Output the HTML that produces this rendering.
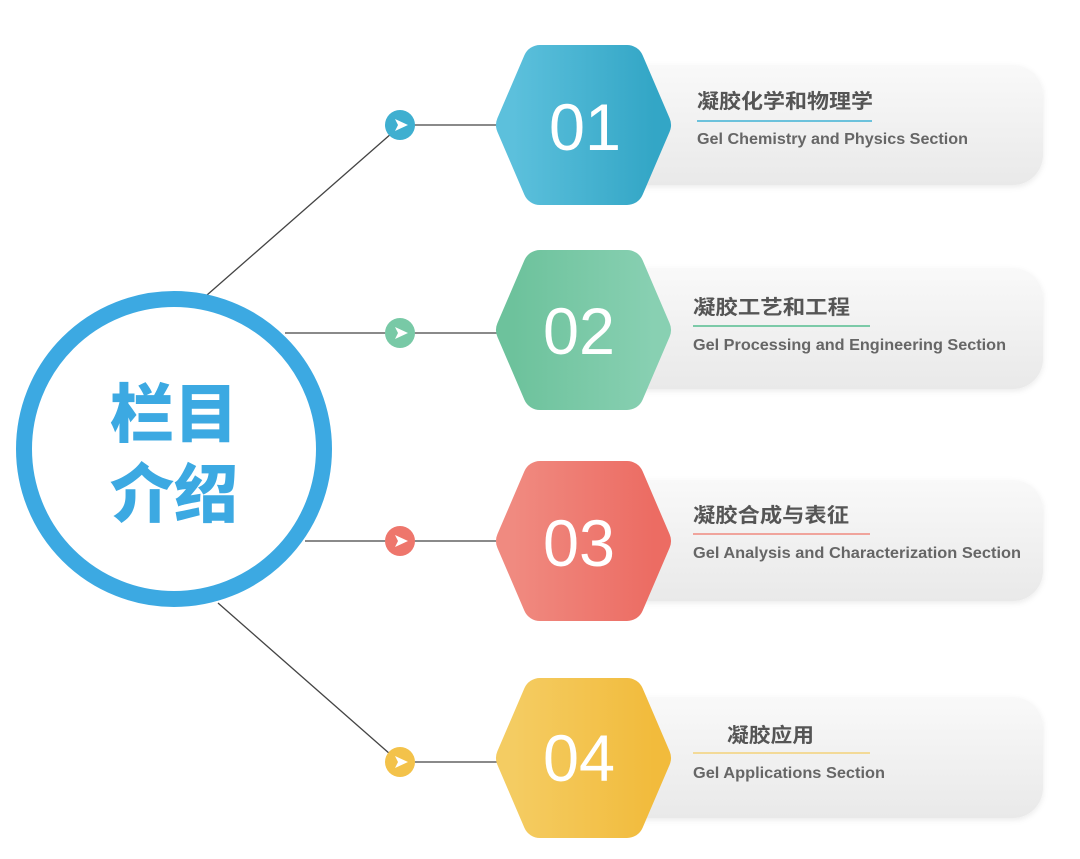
<!DOCTYPE html>
<html><head><meta charset="utf-8"><style>
html,body{margin:0;padding:0;background:#fff;width:1080px;height:859px;overflow:hidden}
svg{display:block}
.t{font-family:"Liberation Sans","Noto Sans CJK SC",sans-serif;font-weight:bold;fill:#555;font-size:20px}
.e{font-family:"Liberation Sans",sans-serif;font-weight:bold;fill:#666;font-size:16px}
.n{font-family:"Liberation Sans",sans-serif;fill:#fff;font-size:66px}
</style></head><body>
<svg width="1080" height="859" viewBox="0 0 1080 859">
<defs>
<linearGradient id="card" x1="0" y1="0" x2="0" y2="1"><stop offset="0" stop-color="#f9f9f9"/><stop offset="1" stop-color="#e9e9e9"/></linearGradient>
<linearGradient id="g1" x1="0" x2="1"><stop offset="0" stop-color="#5cc0dc"/><stop offset="1" stop-color="#33a6c6"/></linearGradient>
<linearGradient id="g2" x1="0" x2="1"><stop offset="0" stop-color="#6dc29c"/><stop offset="1" stop-color="#88d0b2"/></linearGradient>
<linearGradient id="g3" x1="0" x2="1"><stop offset="0" stop-color="#f08a80"/><stop offset="1" stop-color="#ec6c63"/></linearGradient>
<linearGradient id="g4" x1="0" x2="1"><stop offset="0" stop-color="#f4cc62"/><stop offset="1" stop-color="#f2bb3c"/></linearGradient>
<filter id="sh" x="-10%" y="-20%" width="120%" height="150%"><feDropShadow dx="0" dy="2" stdDeviation="3" flood-color="#000" flood-opacity="0.08"/></filter>
</defs>

<g stroke="#444" stroke-width="1.3" fill="none">
<line x1="207" y1="295" x2="392" y2="133"/>
<line x1="400" y1="125" x2="500" y2="125"/>
<line x1="285" y1="333" x2="500" y2="333"/>
<line x1="305" y1="541" x2="500" y2="541"/>
<line x1="218" y1="603" x2="390" y2="754"/>
<line x1="400" y1="762" x2="500" y2="762"/>
</g>

<circle cx="174" cy="449" r="150" fill="#fff" stroke="#3ca9e2" stroke-width="16"/>
<text x="174" y="437" text-anchor="middle" font-family="'Noto Sans CJK SC',sans-serif" font-weight="900" font-size="64" fill="#3ca9e2">栏目</text>
<text x="174" y="517" text-anchor="middle" font-family="'Noto Sans CJK SC',sans-serif" font-weight="900" font-size="64" fill="#3ca9e2">介绍</text>

<g filter="url(#sh)" fill="url(#card)">
<rect x="610" y="65" width="433" height="120" rx="30"/>
<rect x="610" y="268" width="433" height="121" rx="30"/>
<rect x="610" y="480" width="433" height="121" rx="30"/>
<rect x="610" y="697" width="433" height="121" rx="30"/>
</g>

<circle cx="400" cy="125" r="15" fill="#3fafd0"/>
<circle cx="400" cy="333" r="15" fill="#78c9a6"/>
<circle cx="400" cy="541" r="15" fill="#ee766c"/>
<circle cx="400" cy="762" r="15" fill="#f3c24a"/>
<g fill="#fff">
<path d="M395 119 L408 125 L395 131 L398 125Z"/>
<path d="M395 327 L408 333 L395 339 L398 333Z"/>
<path d="M395 535 L408 541 L395 547 L398 541Z"/>
<path d="M395 756 L408 762 L395 768 L398 762Z"/>
</g>

<g stroke-width="34" stroke-linejoin="round">
<polygon points="513,125 540,62 627,62 654,125 627,188 540,188" fill="url(#g1)" stroke="url(#g1)"/>
<polygon points="513,330 540,267 627,267 654,330 627,393 540,393" fill="url(#g2)" stroke="url(#g2)"/>
<polygon points="513,541 540,478 627,478 654,541 627,604 540,604" fill="url(#g3)" stroke="url(#g3)"/>
<polygon points="513,758 540,695 627,695 654,758 627,821 540,821" fill="url(#g4)" stroke="url(#g4)"/>
</g>
<text class="n" x="549" y="150" textLength="72" lengthAdjust="spacingAndGlyphs">01</text>
<text class="n" x="543" y="354" textLength="72" lengthAdjust="spacingAndGlyphs">02</text>
<text class="n" x="543" y="566" textLength="72" lengthAdjust="spacingAndGlyphs">03</text>
<text class="n" x="543" y="781" textLength="72" lengthAdjust="spacingAndGlyphs">04</text>

<text class="t" x="697" y="108" textLength="176" lengthAdjust="spacingAndGlyphs">凝胶化学和物理学</text>
<line x1="697" y1="121" x2="872" y2="121" stroke="#6cc2dc" stroke-width="2"/>
<text class="e" x="697" y="144" textLength="271" lengthAdjust="spacingAndGlyphs">Gel Chemistry and Physics Section</text>

<text class="t" x="693" y="314" textLength="157" lengthAdjust="spacingAndGlyphs">凝胶工艺和工程</text>
<line x1="693" y1="326" x2="870" y2="326" stroke="#7ccaa8" stroke-width="2"/>
<text class="e" x="693" y="350" textLength="313" lengthAdjust="spacingAndGlyphs">Gel Processing and Engineering Section</text>

<text class="t" x="693" y="522" textLength="156" lengthAdjust="spacingAndGlyphs">凝胶合成与表征</text>
<line x1="693" y1="534" x2="870" y2="534" stroke="#ef8a80" stroke-width="1.5"/>
<text class="e" x="693" y="558" textLength="328" lengthAdjust="spacingAndGlyphs">Gel Analysis and Characterization Section</text>

<text class="t" x="727" y="742" textLength="87" lengthAdjust="spacingAndGlyphs">凝胶应用</text>
<line x1="693" y1="753" x2="870" y2="753" stroke="#f4d27a" stroke-width="1.5"/>
<text class="e" x="693" y="778" textLength="192" lengthAdjust="spacingAndGlyphs">Gel Applications Section</text>
</svg>
</body></html>
